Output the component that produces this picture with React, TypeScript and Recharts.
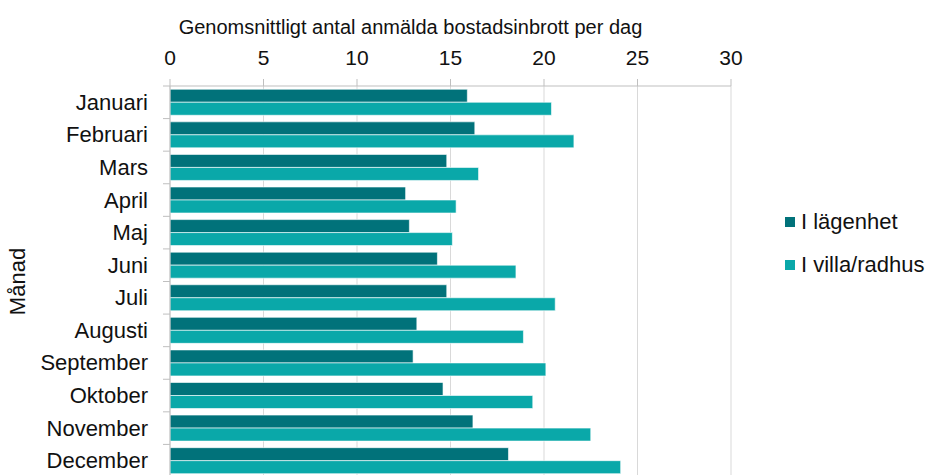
import React from 'react';
import { BarChart, Bar, XAxis, YAxis, CartesianGrid, Label } from 'recharts';

const months = ['Januari', 'Februari', 'Mars', 'April', 'Maj', 'Juni', 'Juli', 'Augusti', 'September', 'Oktober', 'November', 'December'];
const lagenhet = [15.9, 16.3, 14.8, 12.6, 12.8, 14.3, 14.8, 13.2, 13.0, 14.6, 16.2, 18.1];
const villa = [20.4, 21.6, 16.5, 15.3, 15.1, 18.5, 20.6, 18.9, 20.1, 19.4, 22.5, 24.1];
const xTicks = [0, 5, 10, 15, 20, 25, 30];

const seriesNames = ['I lägenhet', 'I villa/radhus'];
const colors = { dark: '#01727a', light: '#0aa8a9', grid: '#d9d9d9', axis: '#bfbfbf', text: '#111111' };
const FONT = '"Liberation Sans", Arial, sans-serif';

const data = months.map((m, i) => ({ month: m, lagenhet: lagenhet[i], villa: villa[i] }));

const CHART_H = 480;
const TOP_AXIS_H = 86;
const BOTTOM = 3;
const band = (CHART_H - TOP_AXIS_H - BOTTOM) / months.length;

// category tick: label at center, small tick line at band boundary (like Excel)
const MonthTick = (props: any) => {
    const { x, y, payload, index } = props;
    const axisX = x + 22;
    return (
        <g>
            <line x1={axisX - 7} x2={axisX} y1={y - band / 2} y2={y - band / 2} stroke={colors.axis} />
            {index === months.length - 1 && (
                <line x1={axisX - 7} x2={axisX} y1={y + band / 2} y2={y + band / 2} stroke={colors.axis} />
            )}
            <text x={x} y={y} textAnchor="end" dominantBaseline="central" fontSize={22} fill={colors.text} fontFamily={FONT}>
                {payload.value}
            </text>
        </g>
    );
};

const App: React.FC = () => {
    return (
        <div style={{ position: 'absolute', left: 0, top: 0, width: 930, height: 475, overflow: 'hidden', background: '#fff', fontFamily: FONT }}>
            <BarChart
                layout="vertical"
                width={930}
                height={CHART_H}
                data={data}
                margin={{ top: 0, right: 199, bottom: BOTTOM, left: 0 }}
                barCategoryGap="10%"
                barGap={0}
            >
                <CartesianGrid horizontal={false} stroke={colors.grid} />
                <XAxis
                    type="number"
                    orientation="top"
                    domain={[0, 30]}
                    ticks={xTicks}
                    height={TOP_AXIS_H}
                    stroke={colors.axis}
                    tickSize={7}
                    tickMargin={14}
                    tick={{ fontSize: 21, fill: colors.text, fontFamily: FONT }}
                >
                    <Label
                        content={(p: any) => {
                            const vb = p.viewBox;
                            return (
                                <text x={vb.x + vb.width / 2 - 40} y={27} textAnchor="middle" dominantBaseline="central" fontSize={20} fill={colors.text} fontFamily={FONT}>
                                    Genomsnittligt antal anmälda bostadsinbrott per dag
                                </text>
                            );
                        }}
                    />
                </XAxis>
                <YAxis
                    type="category"
                    dataKey="month"
                    width={170}
                    stroke={colors.axis}
                    tickLine={false}
                    tickSize={7}
                    tickMargin={15}
                    interval={0}
                    tick={<MonthTick />}
                >
                    <Label
                        content={(p: any) => {
                            const vb = p.viewBox;
                            const cy = vb.y + vb.height / 2;
                            return (
                                <text x={17} y={cy} transform={`rotate(-90 17 ${cy})`} textAnchor="middle" dominantBaseline="central" fontSize={22} fill={colors.text} fontFamily={FONT}>
                                    Månad
                                </text>
                            );
                        }}
                    />
                </YAxis>
                <Bar dataKey="lagenhet" name={seriesNames[0]} fill={colors.dark} stroke="#ffffff" strokeOpacity={0.6} strokeWidth={1} isAnimationActive={false} />
                <Bar dataKey="villa" name={seriesNames[1]} fill={colors.light} stroke="#ffffff" strokeOpacity={0.6} strokeWidth={1} isAnimationActive={false} />
            </BarChart>
            <div style={{ position: 'absolute', left: 785, top: 207, fontSize: 22, color: colors.text }}>
                {[colors.dark, colors.light].map((c, i) => (
                    <div key={i} style={{ display: 'flex', alignItems: 'center', height: 30, marginBottom: 13 }}>
                        <span style={{ display: 'inline-block', width: 10, height: 10, background: c, marginRight: 6 }} />
                        <span>{seriesNames[i]}</span>
                    </div>
                ))}
            </div>
        </div>
    );
};

export default App;
